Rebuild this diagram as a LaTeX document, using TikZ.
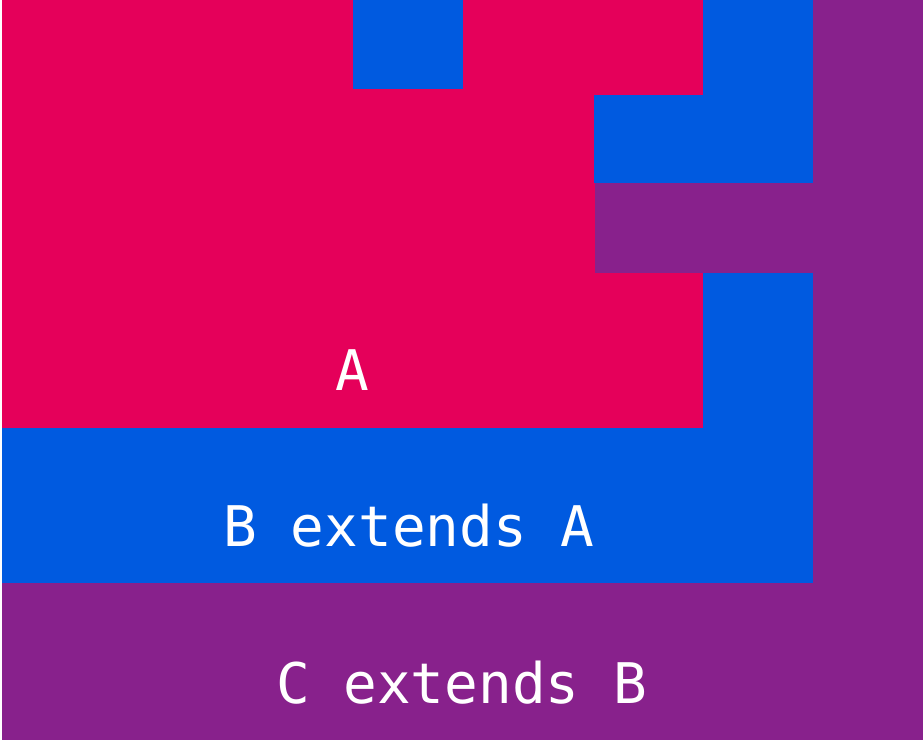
\documentclass[tikz,border=0pt]{standalone}
\usepackage{fontspec}
\newfontfamily\monofont{DejaVu Sans Mono}
\definecolor{cred}{RGB}{229,0,90}
\definecolor{cblue}{RGB}{0,90,224}
\definecolor{cpurple}{RGB}{136,33,140}
\begin{document}
\begin{tikzpicture}[x=1pt,y=1pt,
  lbl/.style={text=white,font=\monofont\fontsize{56}{58}\selectfont,inner sep=0pt,anchor=base}]
\useasboundingbox (0,0) rectangle (923,742);
\fill[white] (0,0) rectangle (923,742);
% C region
\fill[cpurple] (2,2) rectangle (923,742);
% B region
\fill[cblue] (2,159) rectangle (813,742);
% A region
\fill[cred] (2,314) rectangle (703,742);
% patches
\fill[cblue] (353,653) rectangle (463,742);
\fill[cblue] (594,559) rectangle (813,647);
\fill[cpurple] (595,469) rectangle (813,559);
% labels
\node[lbl] (a) at (352.5,351.3) {A};
\node[lbl] (b) at (409,196) {B extends A};
\node[lbl] (c) at (461.5,39) {C extends B};
\end{tikzpicture}
\end{document}
